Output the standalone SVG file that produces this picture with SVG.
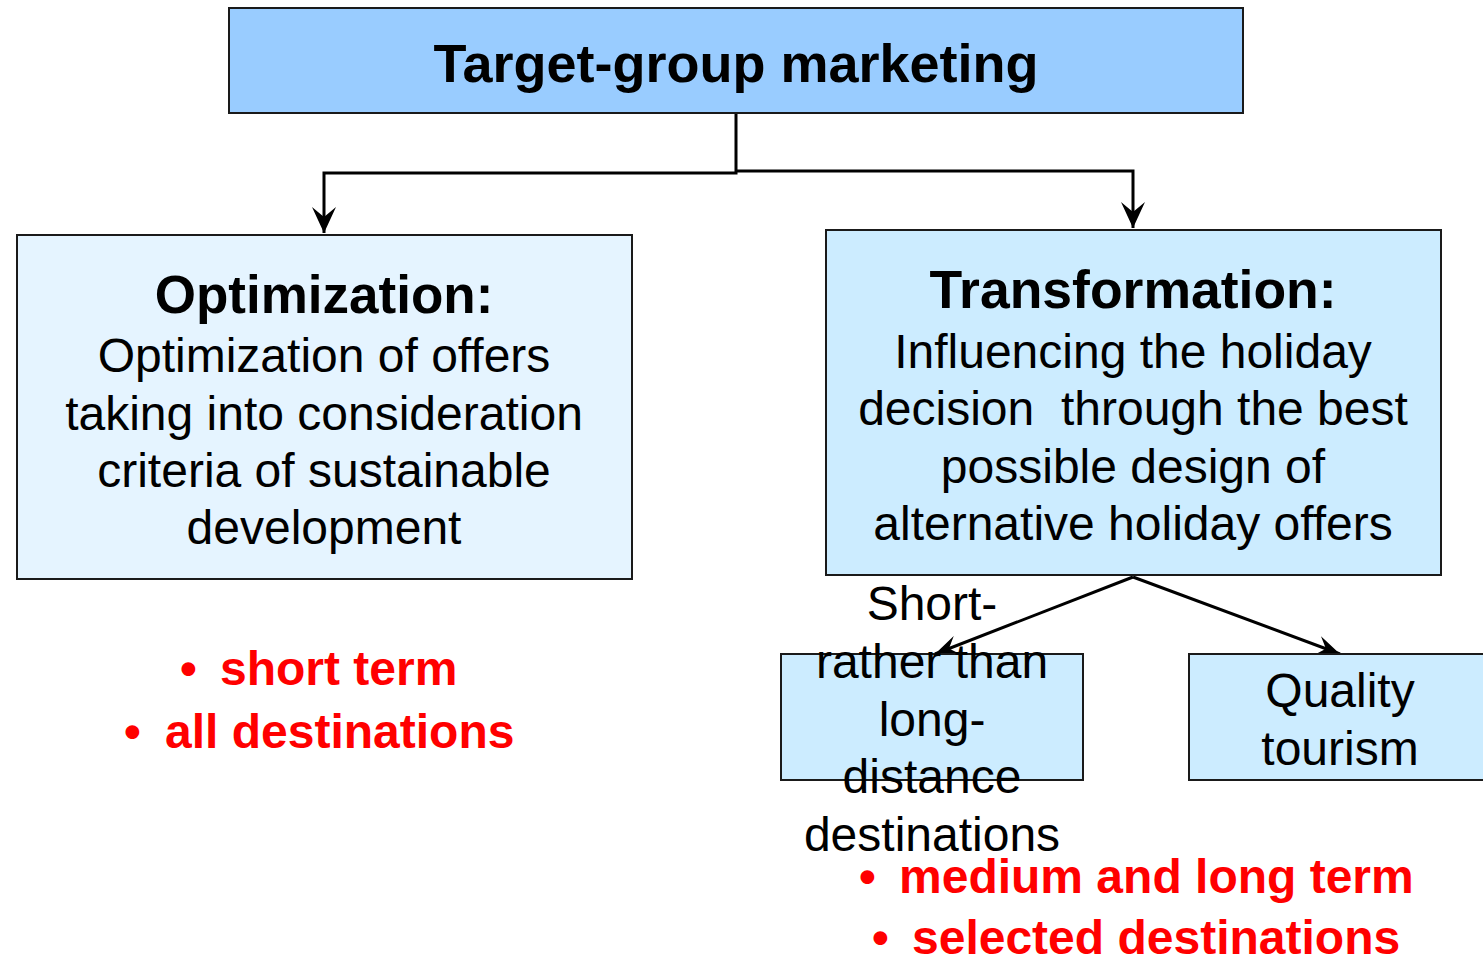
<svg xmlns="http://www.w3.org/2000/svg" width="1483" height="956" viewBox="0 0 1483 956">
<style>
text{font-family:"Liberation Sans",Arial,sans-serif;text-anchor:middle;fill:#000}
.b{font-weight:bold}
.box{stroke:#1a1a1a;stroke-width:2}
.red{fill:#FF0000;font-weight:bold;text-anchor:start;font-size:48px}
.body{font-size:48px}
.conn{fill:none;stroke:#000;stroke-width:3}
</style>
<defs>
<marker id="ah" viewBox="0 0 26 26" refX="26" refY="13" markerWidth="26" markerHeight="26" markerUnits="userSpaceOnUse" orient="auto">
<path d="M0,1 L26,13 L0,25 L10,13 z" fill="#000"/>
</marker>
<marker id="ah2" viewBox="0 0 24 22" refX="24" refY="11" markerWidth="24" markerHeight="22" markerUnits="userSpaceOnUse" orient="auto">
<path d="M0,1 L24,11 L0,21 L9,11 z" fill="#000"/>
</marker>
</defs>
<g id="connectors">
<path class="conn" d="M736,113 V173 H324 V233" marker-end="url(#ah)"/>
<path class="conn" d="M736,171 H1133 V228" marker-end="url(#ah)"/>
<path class="conn" d="M1133,577 L935,654" marker-end="url(#ah2)"/>
<path class="conn" d="M1133,577 L1340,654" marker-end="url(#ah2)"/>
</g>
<g id="top">
<rect class="box" x="229" y="8" width="1014" height="105" fill="#99CCFF"/>
<text class="b" x="736" y="82" font-size="54">Target-group marketing</text>
</g>
<g id="optimization">
<rect class="box" x="17" y="235" width="615" height="344" fill="#E5F4FF"/>
<text class="b" x="324" y="313" font-size="53">Optimization:</text>
<text class="body" x="324" y="372">Optimization of offers</text>
<text class="body" x="324" y="430">taking into consideration</text>
<text class="body" x="324" y="487">criteria of sustainable</text>
<text class="body" x="324" y="544">development</text>
</g>
<g id="transformation">
<rect class="box" x="826" y="230" width="615" height="345" fill="#CCECFF"/>
<text class="b" x="1133" y="308" font-size="53.5">Transformation:</text>
<text class="body" x="1133" y="368">Influencing the holiday</text>
<text class="body" x="1133" y="425" xml:space="preserve">decision  through the best</text>
<text class="body" x="1133" y="483">possible design of</text>
<text class="body" x="1133" y="540">alternative holiday offers</text>
</g>
<g id="short-distance">
<rect class="box" x="781" y="654" width="302" height="126" fill="#CCECFF"/>
<text class="body" x="932" y="620">Short-</text>
<text class="body" x="932" y="678">rather than</text>
<text class="body" x="932" y="736">long-</text>
<text class="body" x="932" y="793">distance</text>
<text class="body" x="932" y="851">destinations</text>
</g>
<g id="quality">
<rect class="box" x="1189" y="654" width="300" height="126" fill="#CCECFF"/>
<text class="body" x="1340" y="707">Quality</text>
<text class="body" x="1340" y="765">tourism</text>
</g>
<g id="notes-left">
<text class="red" y="685"><tspan x="180">•</tspan><tspan x="220">short term</tspan></text>
<text class="red" y="748"><tspan x="124">•</tspan><tspan x="165">all destinations</tspan></text>
</g>
<g id="notes-right">
<text class="red" y="893"><tspan x="859">•</tspan><tspan x="899">medium and long term</tspan></text>
<text class="red" y="954"><tspan x="872">•</tspan><tspan x="912">selected destinations</tspan></text>
</g>
</svg>
